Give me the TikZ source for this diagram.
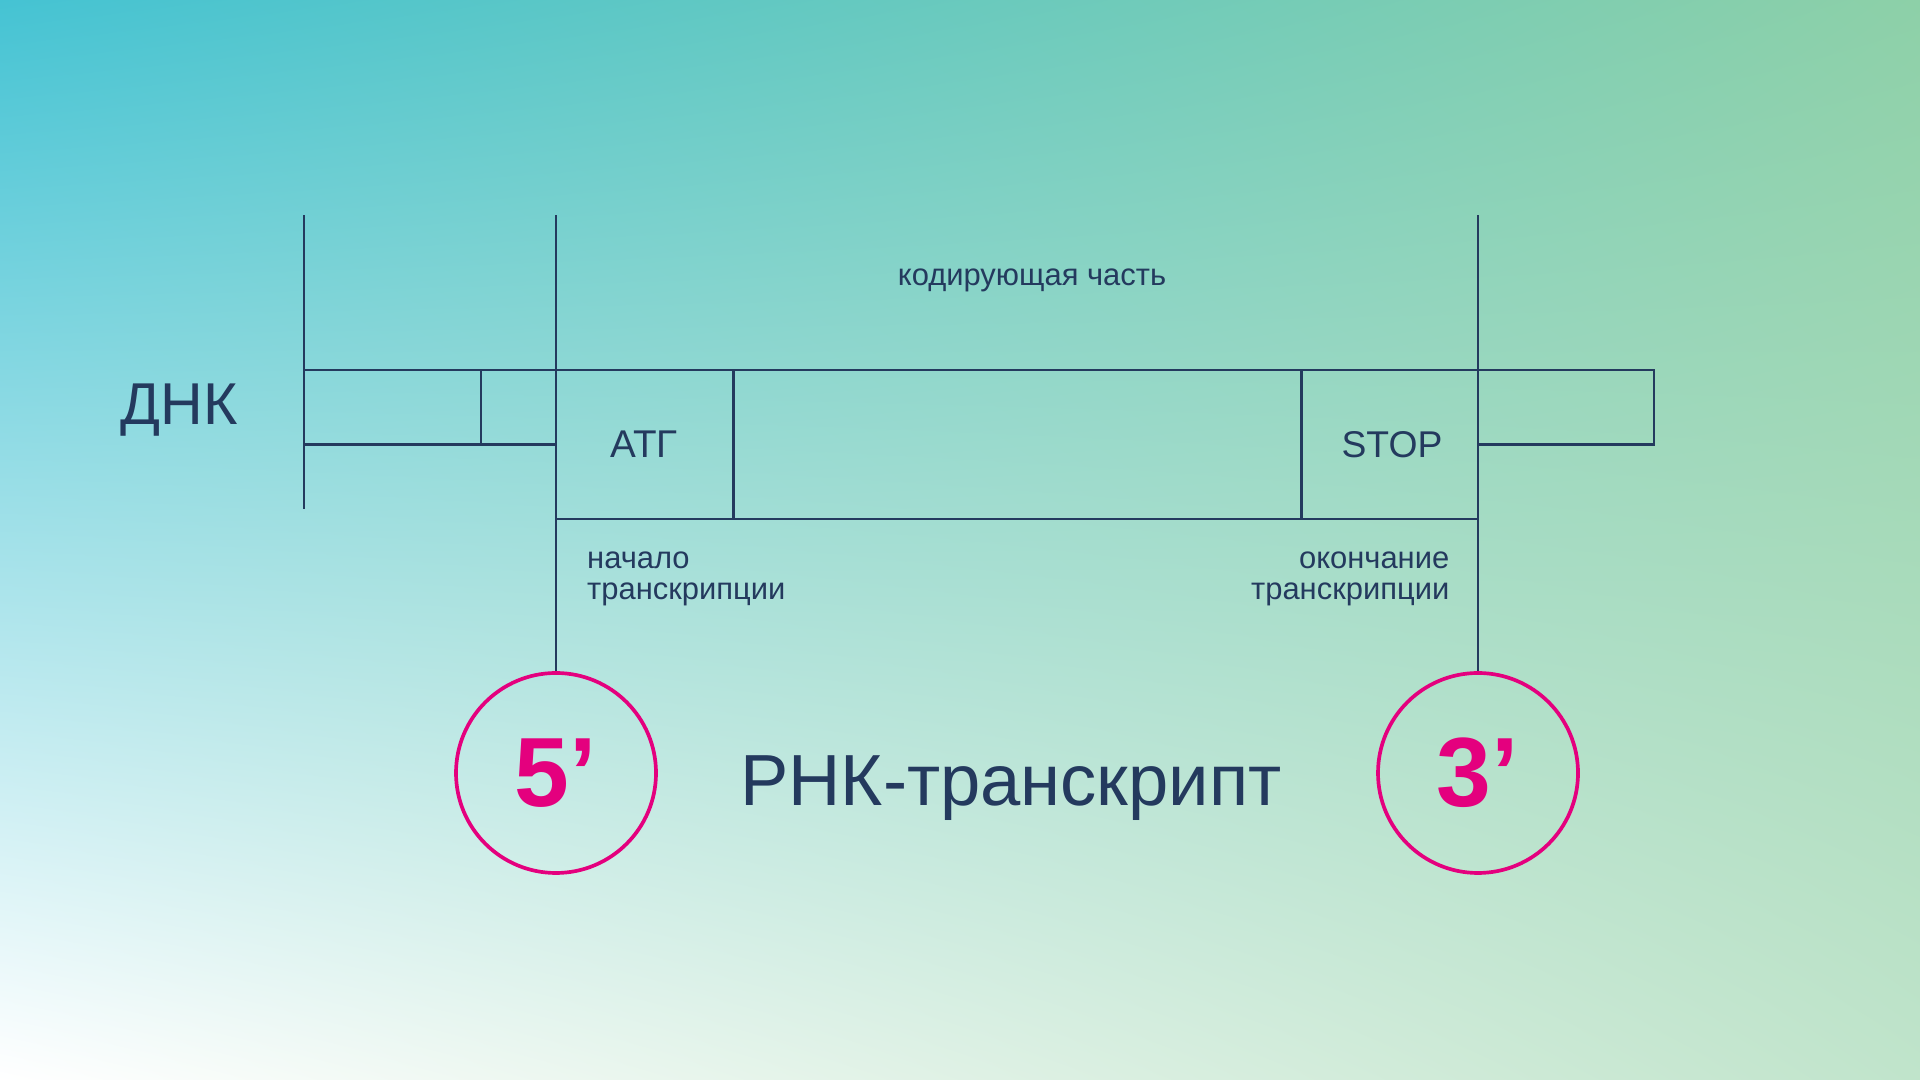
\documentclass[tikz,border=0pt]{standalone}
\usepackage{fontspec}
\setmainfont{Liberation Sans}
\usetikzlibrary{shadings}
\definecolor{ink}{HTML}{243A5E}
\definecolor{rose}{HTML}{E4007E}
\definecolor{bgtl}{HTML}{45C3D3}
\definecolor{bgtr}{HTML}{8DD0A8}
\definecolor{bgbr}{HTML}{C0E4CB}
\tikzset{
  strand/.style={ink,line width=0.7pt},
  endring/.style={circle,draw=rose,line width=1.05pt,minimum size=2cm,inner sep=0pt,text=rose,font=\fontsize{28}{28}\selectfont\bfseries},
  small/.style={text=ink,font=\fontsize{8.8}{8.9}\selectfont,inner sep=0pt}
}
\begin{document}
\begin{tikzpicture}
    \shade[upper left=bgtl,upper right=bgtr,lower left=white,lower right=bgbr] (0,0) rectangle (19.2,10.8);
    \useasboundingbox (0,0) rectangle (19.2,10.8);
    % DNA strand
    \draw[strand] (3.04,8.645) -- (3.04,5.71);
    \draw[strand] (3.04,7.10) -- (16.54,7.10) -- (16.54,6.355) -- (14.78,6.355);
    \draw[strand] (3.04,6.355) -- (5.56,6.355);
    \draw[strand] (4.81,7.10) -- (4.81,6.355);
    \draw[strand] (5.56,5.61) -- (14.78,5.61);
    \draw[strand] (7.335,7.10) -- (7.335,5.61);
    \draw[strand] (13.015,7.10) -- (13.015,5.61);
    \node[text=ink,font=\fontsize{16.8}{18}\selectfont] (dnk) at (1.79,6.70) {ДНК};
    \node[small] (coding) at (10.32,8.00) {кодирующая часть};
    \node[text=ink,font=\fontsize{11}{12}\selectfont] (atg) at (6.44,6.355) {АТГ};
    \node[text=ink,font=\fontsize{10.6}{12}\selectfont] (stop) at (13.92,6.355) {STOP};
    \node[small,align=left,anchor=west] (start) at (5.865,5.01) {начало\\транскрипции};
    \node[small,align=right,anchor=east] (finish) at (14.50,5.01) {окончание\\транскрипции};
    % transcript ends
    \node[endring] (five) at (5.56,3.07) {5’};
    \node[endring] (three) at (14.78,3.07) {3’};
    \draw[strand] (5.56,8.645) -- (five.north);
    \draw[strand] (14.78,8.645) -- (three.north);
    \node[text=ink,font=\fontsize{20.6}{22}\selectfont,anchor=base] (rna) at (10.11,2.74) {РНК-транскрипт};
\end{tikzpicture}
\end{document}
